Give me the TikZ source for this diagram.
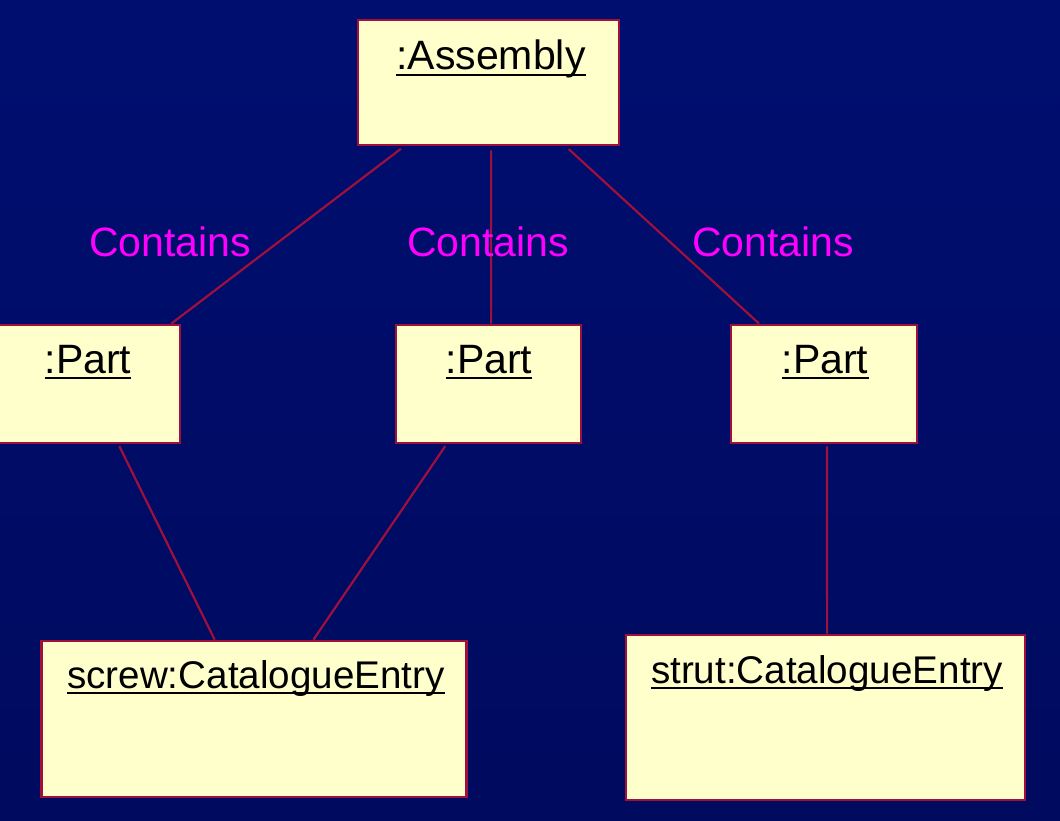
\documentclass[tikz,border=0pt]{standalone}
\usepackage{fontspec}
\setmainfont{Liberation Sans}
\usetikzlibrary{calc}
\definecolor{bgtop}{RGB}{0,14,112}
\definecolor{bgmid}{RGB}{0,17,122}
\definecolor{bgbot}{RGB}{0,10,94}
\definecolor{objfill}{RGB}{255,255,204}
\definecolor{objline}{RGB}{160,16,60}
\definecolor{lblcol}{RGB}{255,0,255}
\begin{document}
\begin{tikzpicture}[x=1pt,y=-1pt,
  objbox/.style={draw=objline,fill=objfill,line width=2.8pt,rectangle,inner sep=0pt},
  objtext/.style={inner sep=0pt,anchor=base,font=\fontsize{41}{48}\selectfont,text=black},
  longtext/.style={objtext,font=\fontsize{38.6}{46}\selectfont},
  assoc/.style={draw=objline,line width=2.2pt},
  roletext/.style={inner sep=0pt,anchor=base,font=\fontsize{41}{48}\selectfont,text=lblcol}]
\useasboundingbox (0,0) rectangle (1060,821);
\shade[top color=bgtop,middle color=bgmid,bottom color=bgbot] (0,0) rectangle (1060,821);

% boxes
\node[objbox,minimum width=261pt,minimum height=125pt] (asm) at (488.5,82.5) {};
\node[objbox,minimum width=184pt,minimum height=118pt] (p1) at (88,384) {};
\node[objbox,minimum width=185pt,minimum height=118pt] (p2) at (488.5,384) {};
\node[objbox,minimum width=186pt,minimum height=118pt] (p3) at (824,384) {};
\node[objbox,minimum width=425pt,minimum height=156pt] (screw) at (254,719) {};
\node[objbox,minimum width=399pt,minimum height=165pt] (strut) at (825.5,717.5) {};

% connectors
\draw[assoc,shorten <=4pt] ($(asm.south west)!0.18!(asm.south east)$) -- ($(p1.north west)!0.946!(p1.north east)$);
\draw[assoc,shorten <=4pt] ($(asm.south west)!0.51!(asm.south east)$) -- ($(p2.north west)!0.514!(p2.north east)$);
\draw[assoc,shorten <=4pt] ($(asm.south west)!0.793!(asm.south east)$) -- ($(p3.north west)!0.156!(p3.north east)$);
\draw[assoc,shorten <=2pt] ($(p1.south west)!0.663!(p1.south east)$) -- ($(screw.north west)!0.408!(screw.north east)$);
\draw[assoc,shorten <=2pt] ($(p2.south west)!0.276!(p2.south east)$) -- ($(screw.north west)!0.639!(screw.north east)$);
\draw[assoc,shorten <=2pt] ($(p3.south west)!0.516!(p3.south east)$) -- ($(strut.north west)!0.504!(strut.north east)$);

% object names (underlined)
\node[objtext] (tasm) at (491,70) {:Assembly};
\node[objtext] (tp1) at (88,373) {:Part};
\node[objtext] (tp2) at (489,373) {:Part};
\node[objtext] (tp3) at (825,373) {:Part};
\node[longtext] (tscrew) at (256,688) {screw:CatalogueEntry};
\node[longtext] (tstrut) at (827,683) {strut:CatalogueEntry};
\foreach \t in {tasm,tp1,tp2,tp3,tscrew,tstrut}{
  \draw[black,line width=2.4pt] ([yshift=-5pt]\t.base west) -- ([yshift=-5pt]\t.base east);
}

% role labels
\node[roletext] (c1) at (170,256) {Contains};
\node[roletext] (c2) at (488,256) {Contains};
\node[roletext] (c3) at (773,256) {Contains};
\end{tikzpicture}
\end{document}
